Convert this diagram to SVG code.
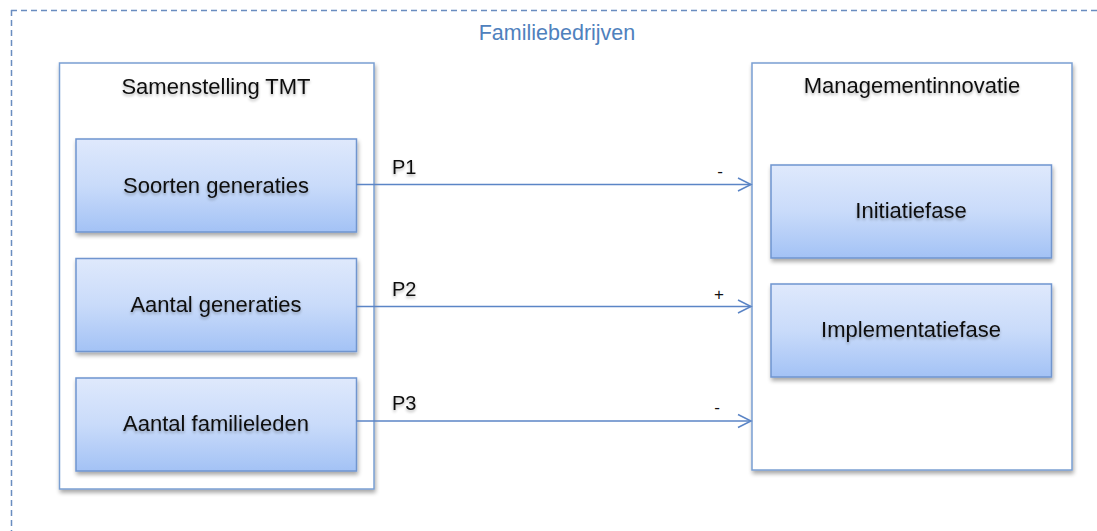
<svg xmlns="http://www.w3.org/2000/svg" width="1097" height="531" viewBox="0 0 1097 531">
  <defs>
    <linearGradient id="boxGrad" x1="0" y1="0" x2="0" y2="1">
      <stop offset="0" stop-color="#dfe9fc"/>
      <stop offset="0.5" stop-color="#c9dbfa"/>
      <stop offset="1" stop-color="#a3c2f5"/>
    </linearGradient>
    <filter id="shadow" x="-10%" y="-10%" width="125%" height="135%">
      <feGaussianBlur in="SourceAlpha" stdDeviation="2"/>
      <feOffset dx="1" dy="3" result="b"/>
      <feComponentTransfer><feFuncA type="linear" slope="0.35"/></feComponentTransfer>
      <feMerge><feMergeNode/><feMergeNode in="SourceGraphic"/></feMerge>
    </filter>
    <filter id="textGlow" x="-10%" y="-30%" width="120%" height="170%">
      <feGaussianBlur in="SourceAlpha" stdDeviation="1.5"/>
      <feOffset dx="0" dy="2"/>
      <feComponentTransfer><feFuncA type="linear" slope="0.3"/></feComponentTransfer>
      <feMerge><feMergeNode/><feMergeNode in="SourceGraphic"/></feMerge>
    </filter>
    <marker id="openArrow" markerUnits="userSpaceOnUse" markerWidth="16" markerHeight="16" refX="14" refY="8" orient="auto">
      <path d="M1,1.5 L14,8 L1,14.5" fill="none" stroke="#5b85c6" stroke-width="1.5"/>
    </marker>
    <style>
      .container { fill: #ffffff; stroke: #7a9fd2; stroke-width: 1.5; }
      .box { fill: url(#boxGrad); stroke: #6f95cf; stroke-width: 1.5; }
      .lbl { font-family: "Liberation Sans", Arial, sans-serif; font-size: 22px; fill: #111111; text-anchor: middle; }
      .title { font-family: "Liberation Sans", Arial, sans-serif; font-size: 21.5px; fill: #4f81bd; text-anchor: middle; }
      .plbl { font-family: "Liberation Sans", Arial, sans-serif; font-size: 20px; fill: #111111; }
      .sign { font-family: "Liberation Sans", Arial, sans-serif; font-size: 17px; fill: #111111; text-anchor: middle; }
      .conn { stroke: #5b85c6; stroke-width: 1.5; fill: none; }
    </style>
  </defs>

  <g id="familiebedrijven">
    <path d="M11,10.5 H1097 M11.5,10 V531" fill="none" stroke="#6a8dc0" stroke-width="1.5" stroke-dasharray="6 4"/>
    <text class="title" x="557" y="40">Familiebedrijven</text>
  </g>

  <g id="samenstelling-tmt">
    <rect class="container" x="59.5" y="63" width="314.5" height="426" filter="url(#shadow)"/>
    <text class="lbl" x="216" y="94" filter="url(#textGlow)">Samenstelling TMT</text>
  </g>

  <g id="managementinnovatie">
    <rect class="container" x="752" y="63" width="320" height="407" filter="url(#shadow)"/>
    <text class="lbl" x="912" y="93" filter="url(#textGlow)">Managementinnovatie</text>
  </g>

  <g id="soorten-generaties">
    <rect class="box" x="76" y="139" width="280.5" height="93" filter="url(#shadow)"/>
    <text class="lbl" x="216" y="193" filter="url(#textGlow)">Soorten generaties</text>
  </g>

  <g id="aantal-generaties">
    <rect class="box" x="76" y="258.5" width="280.5" height="93" filter="url(#shadow)"/>
    <text class="lbl" x="216" y="312" filter="url(#textGlow)">Aantal generaties</text>
  </g>

  <g id="aantal-familieleden">
    <rect class="box" x="76" y="378" width="280.5" height="93" filter="url(#shadow)"/>
    <text class="lbl" x="216" y="431" filter="url(#textGlow)">Aantal familieleden</text>
  </g>

  <g id="initiatiefase">
    <rect class="box" x="771" y="165" width="280.5" height="93" filter="url(#shadow)"/>
    <text class="lbl" x="911" y="218" filter="url(#textGlow)">Initiatiefase</text>
  </g>

  <g id="implementatiefase">
    <rect class="box" x="771" y="284" width="280.5" height="93" filter="url(#shadow)"/>
    <text class="lbl" x="911" y="337" filter="url(#textGlow)">Implementatiefase</text>
  </g>

  <g id="connectors">
    <line class="conn" x1="356.5" y1="184.5" x2="751" y2="184.5" marker-end="url(#openArrow)"/>
    <line class="conn" x1="356.5" y1="306.5" x2="751" y2="306.5" marker-end="url(#openArrow)"/>
    <line class="conn" x1="356.5" y1="421" x2="751" y2="421" marker-end="url(#openArrow)"/>
    <text class="plbl" x="392" y="174" filter="url(#textGlow)">P1</text>
    <text class="plbl" x="392" y="296" filter="url(#textGlow)">P2</text>
    <text class="plbl" x="392" y="410" filter="url(#textGlow)">P3</text>
    <text class="sign" x="720" y="177">-</text>
    <text class="sign" x="719" y="300">+</text>
    <text class="sign" x="717" y="413">-</text>
  </g>
</svg>
